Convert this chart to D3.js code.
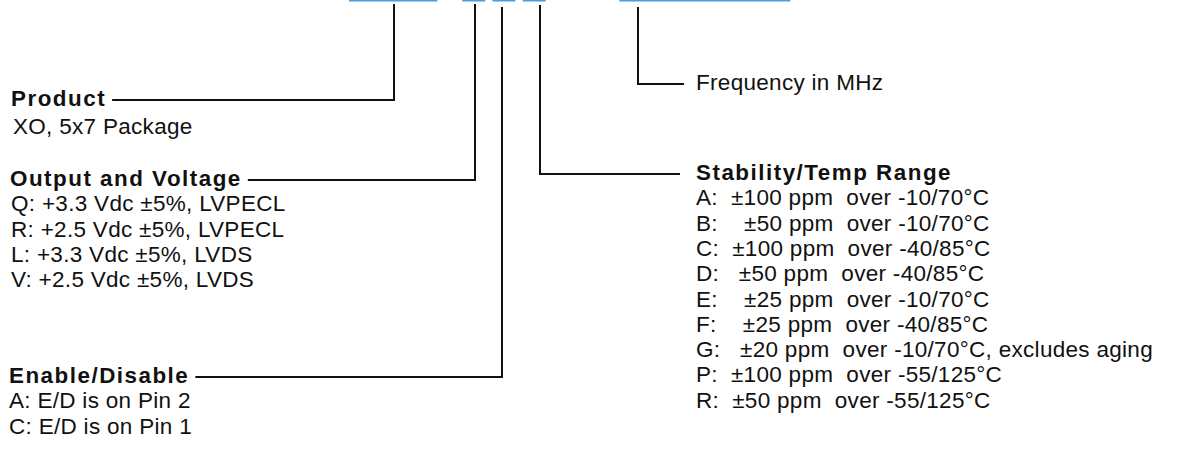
<!DOCTYPE html>
<html><head><meta charset="utf-8">
<script src="https://cdn.jsdelivr.net/npm/d3@7"></script>
<style>
html,body{margin:0;padding:0;background:#fff;}
text{white-space:pre;}
</style></head>
<body><svg id="c" width="1188" height="471"></svg>
<script>
// ---- data ----
const fieldNames = ["Product", "Output and Voltage", "Enable/Disable", "Stability/Temp Range", "Frequency in MHz"];
const productOptions = ["XO, 5x7 Package"];
const outputOptions = ["Q: +3.3 Vdc \u00b15%, LVPECL", "R: +2.5 Vdc \u00b15%, LVPECL", "L: +3.3 Vdc \u00b15%, LVDS", "V: +2.5 Vdc \u00b15%, LVDS"];
const enableOptions = ["A: E/D is on Pin 2", "C: E/D is on Pin 1"];
const stabilityOptions = [
  "A:  \u00b1100 ppm  over -10/70\u00b0C",
  "B:    \u00b150 ppm  over -10/70\u00b0C",
  "C:  \u00b1100 ppm  over -40/85\u00b0C",
  "D:   \u00b150 ppm  over -40/85\u00b0C",
  "E:    \u00b125 ppm  over -10/70\u00b0C",
  "F:    \u00b125 ppm  over -40/85\u00b0C",
  "G:   \u00b120 ppm  over -10/70\u00b0C, excludes aging",
  "P:  \u00b1100 ppm  over -55/125\u00b0C",
  "R:  \u00b150 ppm  over -55/125\u00b0C"
];
// number of code characters per field of the part number
const fieldChars = [3, 1, 1, 1, 6];

// ---- layout ----
const svg = d3.select("#c");
const font = "'Liberation Sans', Arial, sans-serif";
const ink = "#111";
const blue = "#4a9bd9";
const fsBold = 22.4, fsReg = 22.5;

// part-number slots
const slotX = d3.scaleLinear().domain([0, 1]).range([349, 379.2]);
const slotStart = [0, 3.75, 4.75, 5.75, 8.95];
const slotW = 23 / 30.2;
const segs = fieldChars.map((n, i) => ({x0: slotX(slotStart[i]), x1: slotX(slotStart[i] + (n - 1) + slotW) + (i === 0 ? 5 : (i === 4 ? -3 : 0))}));

svg.selectAll("line.code").data(segs).join("line")
  .attr("x1", d => d.x0).attr("x2", d => d.x1).attr("y1", 0.5).attr("y2", 0.5)
  .attr("stroke", blue).attr("stroke-width", 2);

// row scale: line pitch
const rowY = d3.scaleLinear().domain([0, 1]).range([0, 25.3]);

// label blocks
const blocks = [
  {title: fieldNames[0], items: productOptions, x: 11, y: 100, ix: 13, drop: 394, top: 4},
  {title: fieldNames[1], items: outputOptions, x: 10, y: 180, ix: 11, drop: 475, top: 4},
  {title: fieldNames[2], items: enableOptions, x: 9, y: 377, ix: 9, drop: 502, top: 7},
  {title: fieldNames[3], items: stabilityOptions, x: 696, y: 174, ix: 696, drop: 540, top: 5, right: true},
];

blocks.forEach(b => {
  const t = svg.append("text").attr("x", b.x).attr("y", b.y + 6)
    .attr("font-family", font).attr("font-weight", 700).attr("font-size", fsBold)
    .attr("letter-spacing", 1.5)
    .attr("fill", ink).text(b.title);
  const w = t.node().getComputedTextLength();
  svg.selectAll(null).data(b.items).join("text")
    .attr("x", b.ix).attr("y", (d, i) => b.y + 6 + rowY(i + 1) + (b === blocks[0] ? 3 : 0))
    .attr("font-family", font).attr("font-size", fsReg).attr("fill", ink)
    .attr("letter-spacing", 0.3)
    .text(d => d);
  // leader
  let pts;
  if (b.right) {
    pts = [[b.drop, b.top], [b.drop, b.y], [b.x - 16, b.y]];
  } else {
    pts = [[b.x + w + 6, b.y], [b.drop, b.y], [b.drop, b.top]];
  }
  svg.append("path").attr("d", d3.line()(pts)).attr("fill", "none")
    .attr("stroke", ink).attr("stroke-width", 2);
});

// frequency
svg.append("path").attr("d", d3.line()([[638, 7], [638, 84], [684, 84]]))
  .attr("fill", "none").attr("stroke", ink).attr("stroke-width", 2);
svg.append("text").attr("x", 696).attr("y", 84 + 6)
  .attr("font-family", font).attr("font-size", fsReg).attr("fill", ink)
  .attr("letter-spacing", 0.3).text(fieldNames[4]);
</script></body></html>
